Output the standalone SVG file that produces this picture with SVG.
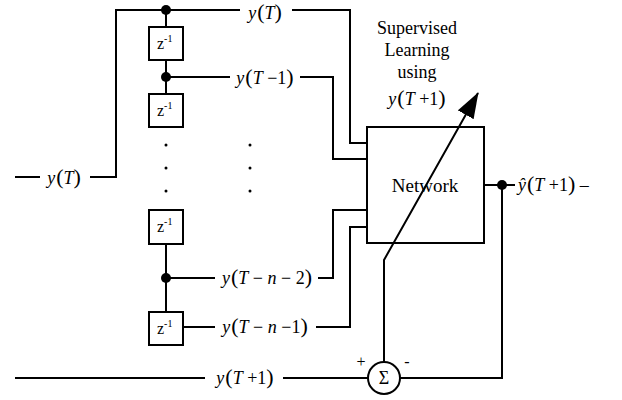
<svg xmlns="http://www.w3.org/2000/svg" width="622" height="400" viewBox="0 0 622 400" font-family="'Liberation Serif','Times New Roman','DejaVu Serif',serif">
<style>
.w{fill:none;stroke:#000;stroke-width:2}
.b{fill:#fff;stroke:#000;stroke-width:2}
text{font-family:'Liberation Serif','Times New Roman','DejaVu Serif',serif;fill:#000}
.t{font-size:18px}
.m{font-size:18px;text-anchor:middle}
.z{font-size:16px}
.s{font-size:10px}
.i{font-style:italic}
.p{font-size:22px}
.d{fill:#000}
</style>
<defs>
<marker id="ah2" markerWidth="26" markerHeight="18" refX="25" refY="9" orient="auto" markerUnits="userSpaceOnUse" viewBox="0 0 26 18">
<path d="M0,0 L26,9 L0,18 Z" fill="#000"/>
</marker>
</defs>
<g id="connectors">
<polyline class="w" points="15,177 40,177"/>
<polyline class="w" points="90,177 116,177 116,10 240,10"/>
<polyline class="w" points="292,10 350,10 350,143 367,143"/>
<line class="w" x1="166" y1="10" x2="166" y2="27"/>
<line class="w" x1="166" y1="60" x2="166" y2="94"/>
<polyline class="w" points="166,77 230,77"/>
<polyline class="w" points="300,77 333,77 333,159 367,159"/>
<line class="w" x1="166" y1="244" x2="166" y2="312"/>
<polyline class="w" points="166,278 215,278"/>
<polyline class="w" points="318,278 333,278 333,210 367,210"/>
<polyline class="w" points="183,327 215,327"/>
<polyline class="w" points="316,327 350,327 350,227 367,227"/>
<polyline class="w" points="15,378 205,378"/>
<polyline class="w" points="283,378 368,378"/>
<polyline class="w" points="400,378 502,378 502,185 484,185"/>
<line class="w" x1="502" y1="185" x2="515" y2="185"/>
</g>
<g id="dots">
<circle class="d" cx="166" cy="10" r="5"/>
<circle class="d" cx="166" cy="77" r="5"/>
<circle class="d" cx="166" cy="278" r="5"/>
<circle class="d" cx="502" cy="185" r="5"/>
<circle class="d" cx="166" cy="145" r="1.5"/>
<circle class="d" cx="166" cy="168" r="1.5"/>
<circle class="d" cx="166" cy="191" r="1.5"/>
<circle class="d" cx="250" cy="145" r="1.5"/>
<circle class="d" cx="250" cy="168" r="1.5"/>
<circle class="d" cx="250" cy="191" r="1.5"/>
</g>
<g id="delay1"><rect class="b" x="149" y="27" width="34" height="33"/><text class="z" x="157" y="49">z<tspan class="s" dy="-7">-1</tspan></text></g>
<g id="delay2"><rect class="b" x="149" y="94" width="34" height="33"/><text class="z" x="157" y="116">z<tspan class="s" dy="-7">-1</tspan></text></g>
<g id="delay3"><rect class="b" x="149" y="210" width="34" height="34"/><text class="z" x="157" y="232">z<tspan class="s" dy="-7">-1</tspan></text></g>
<g id="delay4"><rect class="b" x="149" y="312" width="34" height="33"/><text class="z" x="157" y="334">z<tspan class="s" dy="-7">-1</tspan></text></g>
<g id="network"><rect class="b" x="367" y="127" width="117" height="116"/><text class="m" x="425" y="192" style="font-size:19px">Network</text></g>
<g id="sum"><circle class="b" cx="384" cy="378" r="16"/><text class="m" x="384" y="384" style="font-size:18px">Σ</text>
<text class="m" x="361" y="367" style="font-size:16px">+</text><text class="m" x="407" y="367" style="font-size:16px">-</text></g>
<g id="learning-arrow">
<polyline class="w" points="384,362 384,260 478,93" marker-end="url(#ah2)"/>
</g>
<g id="labels">
<text class="m" x="64" y="184"><tspan class="i">y</tspan><tspan class="p" dx="1">(</tspan><tspan class="i">T</tspan><tspan class="p">)</tspan></text>
<text class="m" x="265" y="19"><tspan class="i">y</tspan><tspan class="p" dx="1">(</tspan><tspan class="i">T</tspan><tspan class="p">)</tspan></text>
<text class="m" x="265" y="84"><tspan class="i">y</tspan><tspan class="p" dx="1">(</tspan><tspan class="i">T</tspan> −1<tspan class="p">)</tspan></text>
<text class="m" x="267" y="284"><tspan class="i">y</tspan><tspan class="p" dx="1">(</tspan><tspan class="i">T</tspan> − <tspan class="i">n</tspan> − 2<tspan class="p">)</tspan></text>
<text class="m" x="265" y="333"><tspan class="i">y</tspan><tspan class="p" dx="1">(</tspan><tspan class="i">T</tspan> − <tspan class="i">n</tspan> −1<tspan class="p">)</tspan></text>
<text class="m" x="245" y="384"><tspan class="i">y</tspan><tspan class="p" dx="1">(</tspan><tspan class="i">T</tspan> +1<tspan class="p">)</tspan></text>
<text class="t" x="518" y="191"><tspan class="i">ŷ</tspan><tspan class="p" dx="1">(</tspan><tspan class="i">T</tspan> +1<tspan class="p">)</tspan> –</text>
<text class="m" x="417" y="34">Supervised</text>
<text class="m" x="417" y="56">Learning</text>
<text class="m" x="417" y="78">using</text>
<text class="m" x="417" y="105"><tspan class="i">y</tspan><tspan class="p" dx="1">(</tspan><tspan class="i">T</tspan> +1<tspan class="p">)</tspan></text>
</g>
</svg>
